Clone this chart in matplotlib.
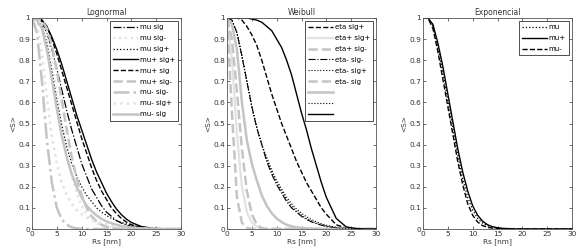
import matplotlib
matplotlib.use("Agg")
import matplotlib.pyplot as plt

# Rs grid [nm]
rs = [0, 1, 2, 3, 4, 5, 6, 7, 8, 9, 10, 11, 12, 13, 14, 15, 16, 17, 18, 19, 20, 22, 24, 26, 28, 30]

# Lognormal
ln_mu_sig    = [1, 1, .98, .93, .85, .76, .66, .56, .47, .39, .31, .25, .19, .15, .11, .08, .06, .04, .028, .019, .012, .004, .001, 0, 0, 0]
ln_mu_sigm   = [1, 1, .98, .92, .80, .65, .50, .36, .25, .17, .11, .07, .044, .027, .016, .01, .006, .003, .002, .001, 0, 0, 0, 0, 0, 0]
ln_mu_sigp   = [1, .99, .96, .88, .75, .61, .49, .39, .31, .25, .20, .16, .13, .10, .08, .064, .05, .04, .031, .024, .018, .01, .005, .002, .001, 0]
ln_mup_sigp  = [1, 1, .99, .96, .91, .85, .78, .70, .62, .54, .47, .40, .33, .27, .22, .17, .13, .095, .068, .047, .031, .012, .004, .001, 0, 0]
ln_mup_sig   = [1, 1, .99, .96, .90, .83, .75, .67, .59, .51, .43, .36, .29, .23, .18, .14, .10, .073, .05, .033, .02, .007, .002, 0, 0, 0]
ln_mup_sigm  = [1, 1, .99, .95, .87, .75, .61, .47, .34, .24, .16, .10, .06, .036, .02, .011, .006, .003, .001, 0, 0, 0, 0, 0, 0, 0]
ln_mum_sigm  = [1, .93, .70, .42, .22, .10, .045, .02, .008, .003, .001, 0, 0, 0, 0, 0, 0, 0, 0, 0, 0, 0, 0, 0, 0, 0]
ln_mum_sigp  = [1, .97, .83, .62, .44, .31, .22, .16, .12, .09, .07, .055, .043, .034, .027, .021, .016, .012, .009, .007, .005, .003, .001, 0, 0, 0]
ln_mum_sig   = [1, .99, .95, .85, .71, .57, .44, .34, .26, .20, .15, .11, .085, .064, .048, .036, .027, .02, .014, .01, .007, .003, .001, 0, 0, 0]

# Weibull
wb_eta_sigp   = [1, 1, 1, .99, .96, .92, .87, .80, .72, .64, .57, .50, .44, .38, .32, .27, .22, .18, .14, .10, .07, .02, .004, 0, 0, 0]
wb_etap_sigp  = [1, .80, .45, .20, .08, .03, .01, 0, 0, 0, 0, 0, 0, 0, 0, 0, 0, 0, 0, 0, 0, 0, 0, 0, 0, 0]
wb_etap_sigm  = [1, .55, .15, .03, .005, 0, 0, 0, 0, 0, 0, 0, 0, 0, 0, 0, 0, 0, 0, 0, 0, 0, 0, 0, 0, 0]
wb_etam_sigm  = [1, .99, .93, .82, .70, .58, .48, .40, .32, .26, .21, .17, .13, .10, .08, .06, .045, .034, .025, .018, .012, .005, .001, 0, 0, 0]
wb_etam_sigp  = [1, .99, .93, .82, .70, .58, .48, .40, .34, .28, .23, .19, .15, .12, .095, .075, .058, .045, .034, .025, .018, .008, .003, .001, 0, 0]
wb_etam_sig   = [1, .90, .65, .38, .18, .07, .02, .005, 0, 0, 0, 0, 0, 0, 0, 0, 0, 0, 0, 0, 0, 0, 0, 0, 0, 0]
wb_g7         = [1, .97, .85, .60, .42, .31, .23, .16, .11, .075, .05, .033, .02, .013, .008, .005, .003, .002, .001, 0, 0, 0, 0, 0, 0, 0]
wb_g8         = [1, .99, .93, .82, .70, .58, .48, .40, .33, .27, .22, .18, .14, .11, .085, .065, .05, .038, .028, .02, .014, .006, .002, 0, 0, 0]
wb_g9         = [1, 1, 1, 1, 1, .995, .99, .98, .96, .94, .90, .86, .80, .73, .64, .55, .47, .38, .30, .22, .15, .05, .01, .002, 0, 0]

# Exponencial
ex_mu  = [1, 1, .96, .86, .74, .61, .48, .35, .24, .15, .09, .05, .028, .015, .008, .004, .002, .001, 0, 0, 0, 0, 0, 0, 0, 0]
ex_mup = [1, 1, .97, .88, .77, .64, .51, .38, .27, .18, .11, .065, .037, .02, .011, .006, .003, .002, .001, 0, 0, 0, 0, 0, 0, 0]
ex_mum = [1, 1, .95, .84, .71, .58, .45, .32, .21, .12, .065, .033, .016, .008, .004, .002, .001, 0, 0, 0, 0, 0, 0, 0, 0, 0]

K = 'black'
G = '#c4c4c4'
L = '#e2e2e2'

plt.rcParams['font.family'] = 'DejaVu Sans'

fig = plt.figure(figsize=(5.8, 2.52), dpi=100)
lefts = [32 / 580, 227 / 580, 423 / 580]
axes = [fig.add_axes([l, 1 - 229 / 252, 149 / 580, 211 / 252]) for l in lefts]

ln = [
    (ln_mu_sig, 'mu sig', K, '-.', 0.9),
    (ln_mu_sigm, 'mu sig-', L, ':', 1.6),
    (ln_mu_sigp, 'mu sig+', K, ':', 0.9),
    (ln_mup_sigp, 'mu+ sig+', K, '-', 1.0),
    (ln_mup_sig, 'mu+ sig', K, '--', 1.0),
    (ln_mup_sigm, 'mu+ sig-', G, '--', 1.8),
    (ln_mum_sigm, 'mu- sig-', G, '-.', 1.8),
    (ln_mum_sigp, 'mu- sig+', L, ':', 1.8),
    (ln_mum_sig, 'mu- sig', G, '-', 1.8),
]
wb = [
    (wb_eta_sigp, 'eta sig+', K, '--', 1.0),
    (wb_etap_sigp, 'eta+ sig+', L, '-', 1.6),
    (wb_etap_sigm, 'eta+ sig-', G, '--', 1.8),
    (wb_etam_sigm, 'eta- sig-', K, '-.', 0.8),
    (wb_etam_sigp, 'eta- sig+', K, ':', 0.8),
    (wb_etam_sig, 'eta- sig', G, '--', 1.8),
    (wb_g7, ' ', G, '-', 1.8),
    (wb_g8, ' ', K, ':', 0.8),
    (wb_g9, ' ', K, '-', 1.0),
]
ex = [
    (ex_mu, 'mu', K, ':', 0.9),
    (ex_mup, 'mu+', K, '-', 1.0),
    (ex_mum, 'mu-', K, '--', 1.0),
]

titles = ['Lognormal', 'Weibull', 'Exponencial']
for ax, series, title in zip(axes, [ln, wb, ex], titles):
    for y, lab, c, ls, lw in series:
        ax.plot(rs, y, color=c, ls=ls, lw=lw, label=lab)
    ax.set_xlim(0, 30)
    ax.set_ylim(0, 1)
    ax.set_xticks(range(0, 31, 5))
    ax.set_yticks([i / 10 for i in range(11)])
    ax.set_yticklabels(['0'] + ['0.%d' % i for i in range(1, 10)] + ['1'])
    ax.tick_params(direction='in', labelsize=5.3, length=2.5, width=0.5,
                   top=True, right=True, pad=1.5, colors='#333333')
    for s in ax.spines.values():
        s.set_linewidth(0.6)
        s.set_color('#555555')
    ax.set_title(title, fontsize=5.5, pad=2, color='#333333')
    ax.set_xlabel('Rs [nm]', fontsize=5.3, labelpad=1, color='#333333')
    ax.set_ylabel('<S>', fontsize=5.3, labelpad=1, color='#333333')
    leg = ax.legend(loc='upper right', fontsize=5, handlelength=3.6,
                    fancybox=False, framealpha=1, edgecolor='#333333',
                    borderpad=0.5, labelspacing=0.7, handletextpad=0.2,
                    borderaxespad=0.4)
    leg.get_frame().set_linewidth(0.6)

fig.savefig('out.png', dpi=100)
